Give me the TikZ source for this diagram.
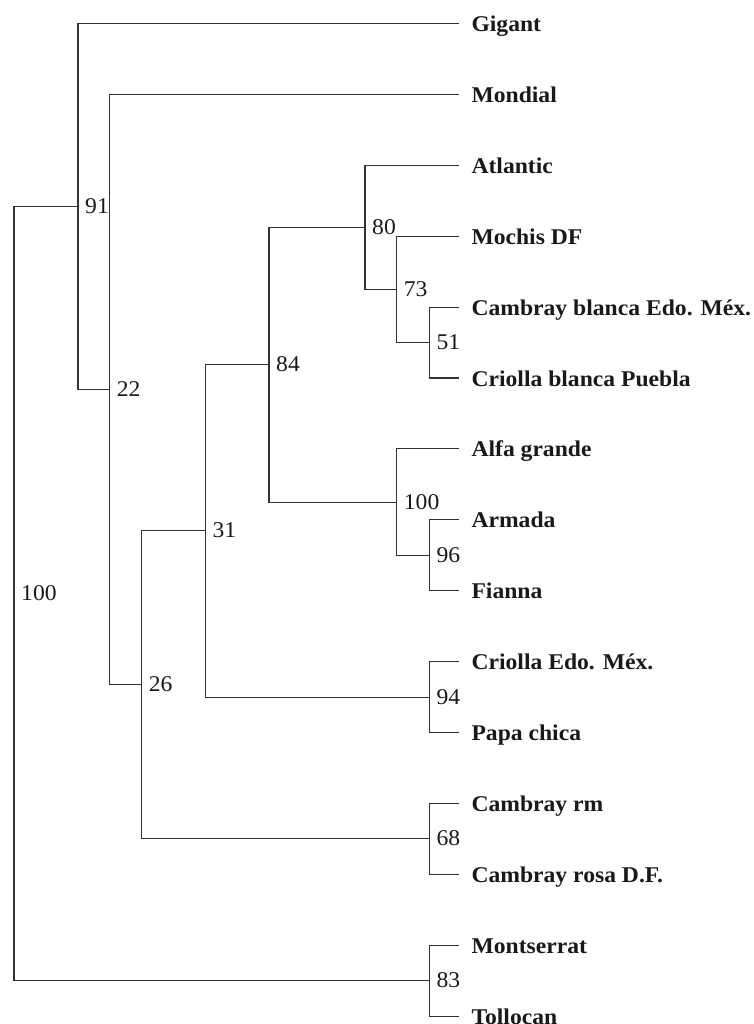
\documentclass[tikz,border=0pt]{standalone}
\usepackage{fontspec}
\setmainfont[FakeStretch=1.05]{Liberation Serif}
\begin{document}
\begin{tikzpicture}[x=1pt,y=-1pt,
  branch/.style={line width=1.1pt, draw=black!80},
  leaf/.style={anchor=west, inner xsep=12pt, inner ysep=0pt, text height=16pt, text depth=0pt,
    font=\fontsize{22.5}{26}\selectfont\bfseries, text=black!90},
  boot/.style={anchor=west, inner xsep=7pt, inner ysep=0pt, text height=14pt, text depth=0pt,
    font=\fontsize{22.5}{26}\selectfont, text=black!90}]
\useasboundingbox (0,0) rectangle (753,1024);
% leaves
\node[leaf] (Gigant)      at (459.3,23.5)   {Gigant};
\node[leaf] (Mondial)     at (459.3,94.4)   {Mondial};
\node[leaf] (Atlantic)    at (459.3,165.3)  {Atlantic};
\node[leaf] (Mochis)      at (459.3,236.2)  {Mochis DF};
\node[leaf] (CambrayB)    at (459.3,307.1)  {Cambray blanca Edo. Méx.};
\node[leaf] (CriollaB)    at (459.3,378.0)  {Criolla blanca Puebla};
\node[leaf] (Alfa)        at (459.3,448.9)  {Alfa grande};
\node[leaf] (Armada)      at (459.3,519.8)  {Armada};
\node[leaf] (Fianna)      at (459.3,590.7)  {Fianna};
\node[leaf] (CriollaEdo)  at (459.3,661.6)  {Criolla Edo. Méx.};
\node[leaf] (Papa)        at (459.3,732.5)  {Papa chica};
\node[leaf] (CambrayRm)   at (459.3,803.4)  {Cambray rm};
\node[leaf] (CambrayRosa) at (459.3,874.3)  {Cambray rosa D.F.};
\node[leaf] (Montserrat)  at (459.3,945.2)  {Montserrat};
\node[leaf] (Tollocan)    at (459.3,1016.1) {Tollocan};
% internal nodes
\coordinate (n51)  at (429.3,342.55);
\coordinate (n73)  at (396.7,289.4);
\coordinate (n80)  at (365.0,227.3);
\coordinate (n96)  at (429.3,555.25);
\coordinate (n100) at (396.7,502.1);
\coordinate (n84)  at (269.0,364.7);
\coordinate (n94)  at (429.3,697.05);
\coordinate (n31)  at (205.3,530.9);
\coordinate (n68)  at (429.3,838.85);
\coordinate (n26)  at (141.7,684.9);
\coordinate (n22)  at (109.7,389.6);
\coordinate (n91)  at (78.0,206.6);
\coordinate (n83)  at (429.3,980.65);
\coordinate (root) at (14.0,593.6);
% connectors
\draw[branch] (n51) |- (CambrayB.west);
\draw[branch] (n51) |- (CriollaB.west);
\draw[branch] (n73) |- (Mochis.west);
\draw[branch] (n73) |- (n51);
\draw[branch] (n80) |- (Atlantic.west);
\draw[branch] (n80) |- (n73);
\draw[branch] (n96) |- (Armada.west);
\draw[branch] (n96) |- (Fianna.west);
\draw[branch] (n100) |- (Alfa.west);
\draw[branch] (n100) |- (n96);
\draw[branch] (n84) |- (n80);
\draw[branch] (n84) |- (n100);
\draw[branch] (n94) |- (CriollaEdo.west);
\draw[branch] (n94) |- (Papa.west);
\draw[branch] (n31) |- (n84);
\draw[branch] (n31) |- (n94);
\draw[branch] (n68) |- (CambrayRm.west);
\draw[branch] (n68) |- (CambrayRosa.west);
\draw[branch] (n26) |- (n31);
\draw[branch] (n26) |- (n68);
\draw[branch] (n22) |- (Mondial.west);
\draw[branch] (n22) |- (n26);
\draw[branch] (n91) |- (Gigant.west);
\draw[branch] (n91) |- (n22);
\draw[branch] (n83) |- (Montserrat.west);
\draw[branch] (n83) |- (Tollocan.west);
\draw[branch] (root) |- (n91);
\draw[branch] (root) |- (n83);
% bootstrap values
\node[boot] (b51)  at (n51)  {51};
\node[boot] (b73)  at (n73)  {73};
\node[boot] (b80)  at (n80)  {80};
\node[boot] (b96)  at (n96)  {96};
\node[boot] (b100) at (n100) {100};
\node[boot] (b84)  at (n84)  {84};
\node[boot] (b94)  at (n94)  {94};
\node[boot] (b31)  at (n31)  {31};
\node[boot] (b68)  at (n68)  {68};
\node[boot] (b26)  at (n26)  {26};
\node[boot] (b22)  at (n22)  {22};
\node[boot] (b91)  at (n91)  {91};
\node[boot] (b83)  at (n83)  {83};
\node[boot] (broot) at (root) {100};
\end{tikzpicture}
\end{document}
